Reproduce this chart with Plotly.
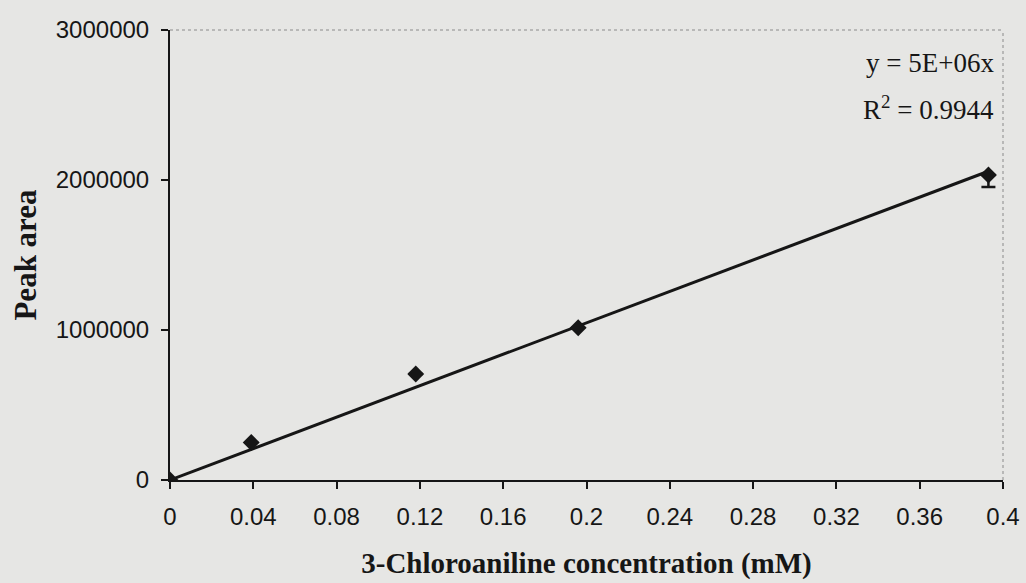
import numpy as np
import plotly.graph_objects as go

# Calibration data: 3-chloroaniline standards
concentration_mM = [0.0, 0.039, 0.118, 0.196, 0.393]
peak_area = [0, 250000, 707000, 1015000, 2033000]
peak_area_err_minus = [0, 0, 0, 0, 80000]

x_ticks = [0, 0.04, 0.08, 0.12, 0.16, 0.2, 0.24, 0.28, 0.32, 0.36, 0.4]
x_tick_text = ["0", "0.04", "0.08", "0.12", "0.16", "0.2", "0.24", "0.28", "0.32", "0.36", "0.4"]
y_ticks = [0, 1000000, 2000000, 3000000]
y_tick_text = ["0", "1000000", "2000000", "3000000"]

equation_text = "y = 5E+06x"
r2_text = "R<sup>2</sup> = 0.9944"

# Linear fit forced through the origin
xa = np.array(concentration_mM)
ya = np.array(peak_area, dtype=float)
slope = float((xa * ya).sum() / (xa * xa).sum())
fit_x = [0.0, max(concentration_mM)]
fit_y = [slope * v for v in fit_x]

bg = "#e6e6e4"
ink = "#161616"

fig = go.Figure()
fig.add_trace(go.Scatter(
    x=fit_x, y=fit_y, mode="lines",
    line=dict(color=ink, width=3), showlegend=False, hoverinfo="skip"))
fig.add_trace(go.Scatter(
    x=concentration_mM, y=peak_area, mode="markers",
    marker=dict(symbol="diamond", size=13, color=ink),
    error_y=dict(type="data", symmetric=False,
                 array=[0] * len(peak_area), arrayminus=peak_area_err_minus,
                 visible=True, color=ink, thickness=2.5, width=7),
    showlegend=False))

# Plot-area frame on top and right (faint dotted)
fig.add_shape(type="line", xref="paper", yref="paper", x0=0, x1=1, y0=1, y1=1,
              line=dict(color="#8a8a8a", width=1, dash="dot"))
fig.add_shape(type="line", xref="paper", yref="paper", x0=1, x1=1, y0=0, y1=1,
              line=dict(color="#8a8a8a", width=1, dash="dot"))

fig.add_annotation(xref="paper", yref="paper", x=0.991, y=0.927,
                   xanchor="right", yanchor="middle", text=equation_text,
                   showarrow=False,
                   font=dict(family="Liberation Serif", size=27, color=ink))
fig.add_annotation(xref="paper", yref="paper", x=0.991, y=0.826,
                   xanchor="right", yanchor="middle", text=r2_text,
                   showarrow=False,
                   font=dict(family="Liberation Serif", size=27, color=ink))

fig.update_layout(
    width=1026, height=583,
    margin=dict(l=170, r=23, t=30, b=103),
    paper_bgcolor=bg, plot_bgcolor=bg,
    xaxis=dict(
        range=[0, 0.4], tickmode="array", tickvals=x_ticks, ticktext=x_tick_text,
        showgrid=False, zeroline=False, showline=True, linecolor=ink, linewidth=2,
        ticks="outside", ticklen=7, tickwidth=1.5, tickcolor=ink,
        ticklabelstandoff=7, automargin=False,
        tickfont=dict(family="Liberation Sans", size=24, color=ink),
        title=dict(text="<b>3-Chloroaniline concentration (mM)</b>", standoff=24,
                   font=dict(family="Liberation Serif", size=29, color=ink)),
    ),
    yaxis=dict(
        range=[0, 3000000], tickmode="array", tickvals=y_ticks, ticktext=y_tick_text,
        showgrid=False, zeroline=False, showline=True, linecolor=ink, linewidth=2,
        ticks="outside", ticklen=7, tickwidth=1.5, tickcolor=ink,
        ticklabelstandoff=7, automargin=False,
        tickfont=dict(family="Liberation Sans", size=24, color=ink),
        title=dict(text="<b>Peak area</b>", standoff=10,
                   font=dict(family="Liberation Serif", size=31, color=ink)),
    ),
)

fig.write_html("out.html")
